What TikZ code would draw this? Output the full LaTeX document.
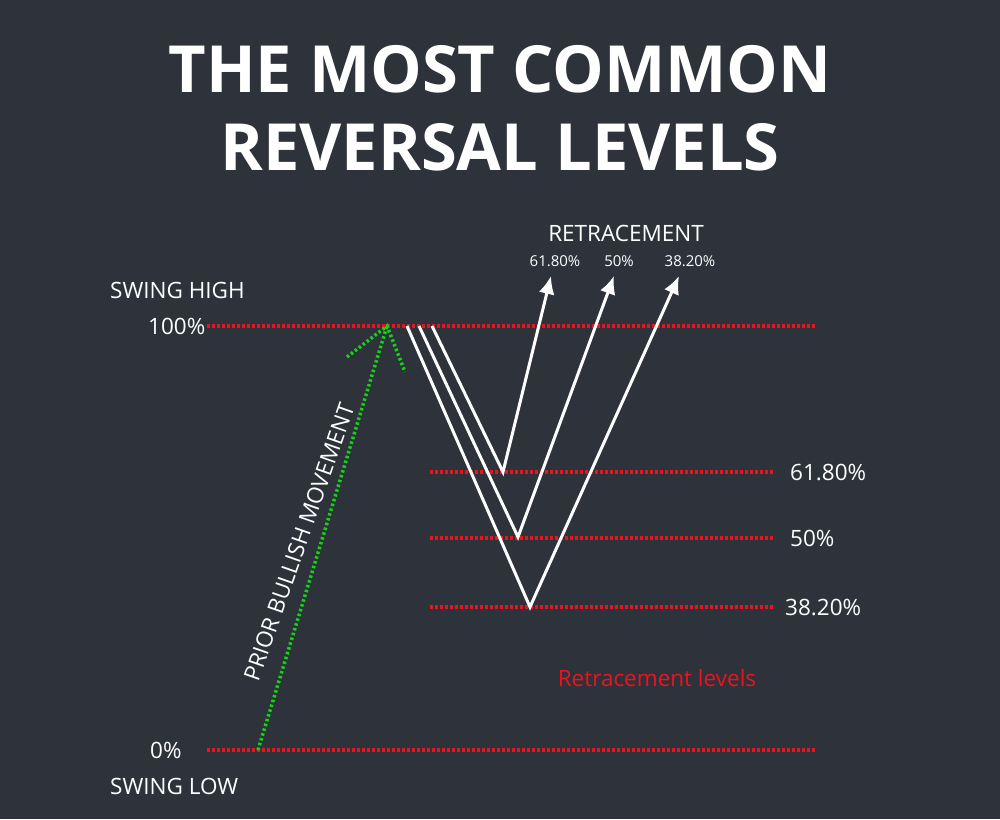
\documentclass[tikz,border=0pt]{standalone}
\usepackage{fontspec}
\setmainfont{Open Sans}
\begin{document}
\begin{tikzpicture}[x=1pt,y=-1pt,
  lbl/.style={text=white,font=\fontsize{22.5}{26}\selectfont,inner sep=0},
  small/.style={text=white,font=\fontsize{15}{17}\selectfont,inner sep=0},
  redl/.style={draw={rgb,255:red,235;green,20;blue,30},line width=3.5pt,dash pattern=on 2.5pt off 2.5pt},
  grn/.style={draw={rgb,255:red,20;green,210;blue,20},line width=3.5pt,dash pattern=on 2.5pt off 2.5pt},
  vline/.style={draw=white,line width=3pt,line join=miter},
  arr/.style={vline,-{Latex[length=18pt,width=16pt]}}]
\usetikzlibrary{arrows.meta}
\fill[fill={rgb,255:red,45;green,50;blue,59}] (0,0) rectangle (1000,819);
\node[text=white,font=\fontsize{65}{78}\selectfont\bfseries,align=center] (title) at (500,108) {THE MOST COMMON\\REVERSAL LEVELS};
% red levels
\draw[redl] (207,326) -- (815,326);
\draw[redl] (430,472) -- (775,472);
\draw[redl] (430,538) -- (775,538);
\draw[redl] (430,607) -- (775,607);
\draw[redl] (207,750) -- (815,750);
\node[lbl,anchor=west] (sh) at (110,290) {SWING HIGH};
\node[lbl,anchor=west] (p100) at (148,326) {100\%};
\node[lbl,anchor=west] (p0) at (150,750) {0\%};
\node[lbl,anchor=west] (sl) at (110,786) {SWING LOW};
\node[lbl,anchor=west] (r1) at (790,472) {61.80\%};
\node[lbl,anchor=west] (r2) at (790,538) {50\%};
\node[lbl,anchor=west] (r3) at (785,607) {38.20\%};
\node[text={rgb,255:red,235;green,20;blue,30},font=\fontsize{22.5}{26}\selectfont,inner sep=0] (rl) at (657,678) {Retracement levels};
\node[lbl] (rt) at (626,233) {RETRACEMENT};
\node[small] (t1) at (555,261) {61.80\%};
\node[small] (t2) at (619,261) {50\%};
\node[small] (t3) at (690,261) {38.20\%};
% green
\coordinate (g0) at (258,750); \coordinate (g1) at (387,326);
\draw[grn] (g0) -- (g1);
\draw[grn] (347,357) -- (g1) -- (405,372);
\node[lbl,rotate=70.7,anchor=south] (pb) at (307,545) {PRIOR BULLISH MOVEMENT};
% V shapes
\coordinate (a1) at (432,326); \coordinate (b1) at (503,472); \coordinate (c1) at (551,276);
\coordinate (a2) at (419,326); \coordinate (b2) at (518,537); \coordinate (c2) at (614,276);
\coordinate (a3) at (407,326); \coordinate (b3) at (530,607); \coordinate (c3) at (679,276);
\draw[arr] (a1) -- (b1) -- (c1);
\draw[arr] (a2) -- (b2) -- (c2);
\draw[arr] (a3) -- (b3) -- (c3);
\end{tikzpicture}
\end{document}
